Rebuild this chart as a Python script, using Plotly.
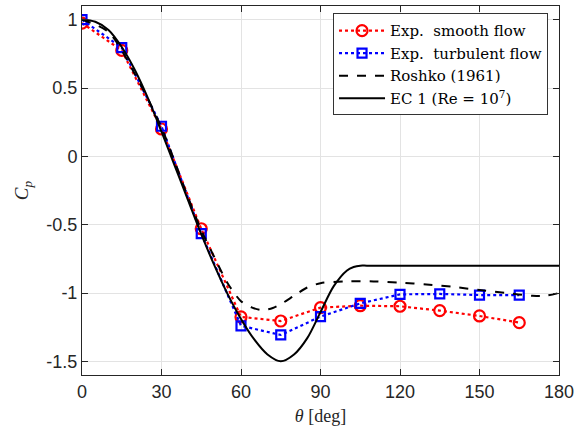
import plotly.graph_objects as go

theta_exp = [0, 15, 30, 45, 60, 75, 90, 105, 120, 135, 150, 165]
cp_smooth = [0.975, 0.775, 0.20, -0.53, -1.175, -1.205, -1.107, -1.093, -1.097, -1.129, -1.168, -1.217]
cp_turb = [1.0, 0.795, 0.22, -0.565, -1.24, -1.307, -1.173, -1.076, -1.01, -1.007, -1.015, -1.015]

theta_roshko = [0, 10, 20, 30, 40, 45, 50, 55, 60, 64, 68, 72, 76, 80, 85, 90, 100, 110, 120, 130, 140, 150, 160, 170, 175, 180]
cp_roshko = [1.0, 0.91, 0.60, 0.21, -0.30, -0.54, -0.74, -0.93, -1.06, -1.105, -1.125, -1.11, -1.07, -1.02, -0.96, -0.928, -0.915, -0.915, -0.925, -0.937, -0.955, -0.978, -1.0, -1.02, -1.02, -1.0]

theta_ec = [0, 5, 10, 15, 20, 25, 30, 35, 40, 45, 50, 55, 60, 65, 70, 75, 80, 85, 90, 95, 100, 102.5, 105, 107.5, 120, 140, 160, 180]
cp_ec = [1.0, 0.985, 0.925, 0.80, 0.63, 0.42, 0.18, -0.07, -0.32, -0.57, -0.80, -1.01, -1.19, -1.34, -1.45, -1.50, -1.45, -1.33, -1.14, -0.95, -0.835, -0.81, -0.80, -0.80, -0.80, -0.80, -0.80, -0.80]

x_ticks = [0, 30, 60, 90, 120, 150, 180]
x_ticklabels = ["0", "30", "60", "90", "120", "150", "180"]
y_ticks = [-1.5, -1, -0.5, 0, 0.5, 1]
y_ticklabels = ["-1.5", "-1", "-0.5", "0", "0.5", "1"]

serif = "DejaVu Serif"
sans = "Liberation Sans"

fig = go.Figure()
fig.add_trace(go.Scatter(
    x=theta_exp, y=cp_smooth, mode="lines+markers", name="Exp.  smooth flow",
    line=dict(color="#ff0000", width=2.2, dash="dot"),
    marker=dict(symbol="circle-open", size=11, color="#ff0000", line=dict(width=2.2, color="#ff0000")),
))
fig.add_trace(go.Scatter(
    x=theta_exp, y=cp_turb, mode="lines+markers", name="Exp.  turbulent flow",
    line=dict(color="#0000ff", width=2.2, dash="dot"),
    marker=dict(symbol="square-open", size=9, color="#0000ff", line=dict(width=2.2, color="#0000ff")),
))
fig.add_trace(go.Scatter(
    x=theta_roshko, y=cp_roshko, mode="lines", name="Roshko (1961)",
    line=dict(color="black", width=2, dash="dash", shape="spline", smoothing=0.8),
))
fig.add_trace(go.Scatter(
    x=theta_ec, y=cp_ec, mode="lines", name="EC 1 (Re = 10<sup>7</sup>)",
    line=dict(color="black", width=2, shape="spline", smoothing=0.9),
))

axis_common = dict(
    showline=True, linecolor="#262626", linewidth=1, mirror="ticks",
    ticks="inside", ticklen=6, tickcolor="#262626",
    showgrid=True, gridcolor="#e3e3e3", gridwidth=1, zeroline=False,
    tickfont=dict(family=sans, size=18, color="#262626"),
)

fig.update_layout(
    width=579, height=436,
    margin=dict(l=82, r=17, t=5, b=61),
    paper_bgcolor="white", plot_bgcolor="white",
    showlegend=True,
    legend=dict(
        x=0.977, y=0.98, xanchor="right", yanchor="top",
        bgcolor="white", bordercolor="#333333", borderwidth=1,
        font=dict(family=serif, size=15, color="black"),
        tracegroupgap=0, itemsizing="trace", itemwidth=46,
    ),
    xaxis=dict(range=[0, 180], tickvals=x_ticks, ticktext=x_ticklabels,
               title=dict(text="<i>θ</i> [deg]", font=dict(family="Liberation Serif", size=18, color="#262626"), standoff=8),
               **axis_common),
    yaxis=dict(range=[-1.6, 1.1], tickvals=y_ticks, ticktext=y_ticklabels,
               title=dict(text="<i>C</i><sub><i>p</i></sub>", font=dict(family="Liberation Serif", size=19, color="#262626"), standoff=12),
               **axis_common),
)

fig.write_html("out.html")
